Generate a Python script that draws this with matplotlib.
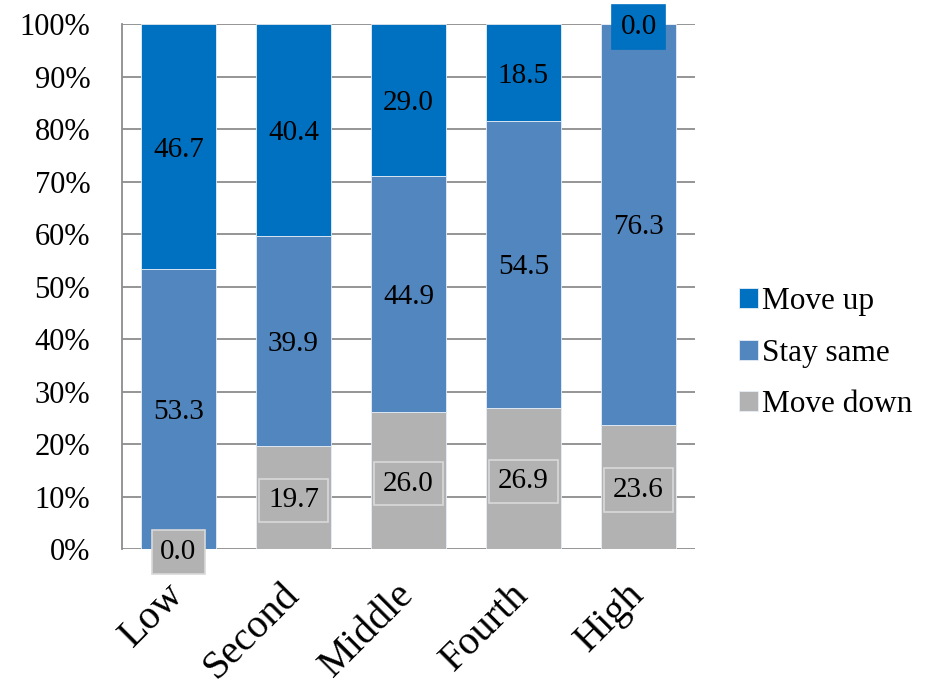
import numpy as np
import matplotlib
matplotlib.use("Agg")
import matplotlib.pyplot as plt

plt.rcParams['font.family'] = ['Liberation Serif', 'DejaVu Serif']

groups = ["Low", "Second", "Middle", "Fourth", "High"]
move_down = [0.0, 19.7, 26.0, 26.9, 23.6]
stay_same = [53.3, 39.9, 44.9, 54.5, 76.3]
move_up = [46.7, 40.4, 29.0, 18.5, 0.0]

series = [("Move down", move_down, "#B2B2B2", "#D9D9D9"),
          ("Stay same", stay_same, "#5186BE", "#5186BE"),
          ("Move up", move_up, "#0070C0", "#0070C0")]

fig = plt.figure(figsize=(9.39, 6.86), dpi=100)
ax = fig.add_axes([0.130, 0.1997, 0.610, 0.7653])

x = np.arange(len(groups))
totals = np.sum([move_down, stay_same, move_up], axis=0)
bottom = np.zeros(len(groups))
handles = {}
for name, vals, color, edge in series:
    share = np.array(vals) / totals * 100
    bars = ax.bar(x, share, 0.655, bottom=bottom, color=color,
                  edgecolor="#E6EEF6", linewidth=0.6, zorder=3)
    handles[name] = bars
    for xi, b, h, v in zip(x, bottom, share, vals):
        ax.text(xi, b + h / 2, f"{v:.1f}", ha="center", va="center_baseline",
                fontsize=21, zorder=5,
                bbox=dict(boxstyle="square,pad=0.3", facecolor=color,
                          edgecolor=edge, linewidth=1.2))
    bottom += share

ax.set_xlim(-0.49, 4.49)
ax.set_ylim(0, 100)
ax.set_yticks(np.arange(0, 101, 10))
ax.set_yticklabels([f"{t}%" for t in range(0, 101, 10)], fontsize=22)
ax.yaxis.grid(True, color="#8C8C8C", linewidth=1.3, zorder=0)
ax.tick_params(axis="y", length=0, pad=23)
ax.tick_params(axis="x", length=0, pad=29)
ax.set_xticks(x)
ax.set_xticklabels(groups, fontsize=29, rotation=45, ha="right",
                   va="center", rotation_mode="anchor")
for side in ["top", "right", "bottom"]:
    ax.spines[side].set_visible(False)
ax.spines["left"].set_color("#8C8C8C")
ax.spines["left"].set_linewidth(1.3)

leg = fig.legend([handles["Move up"], handles["Stay same"], handles["Move down"]],
                 ["Move up", "Stay same", "Move down"],
                 loc="center left", bbox_to_anchor=(0.757, 0.485),
                 frameon=False, fontsize=22.5, handlelength=0.6,
                 handleheight=0.6, handletextpad=0.15, labelspacing=0.72)

fig.savefig("out.png", dpi=100)
